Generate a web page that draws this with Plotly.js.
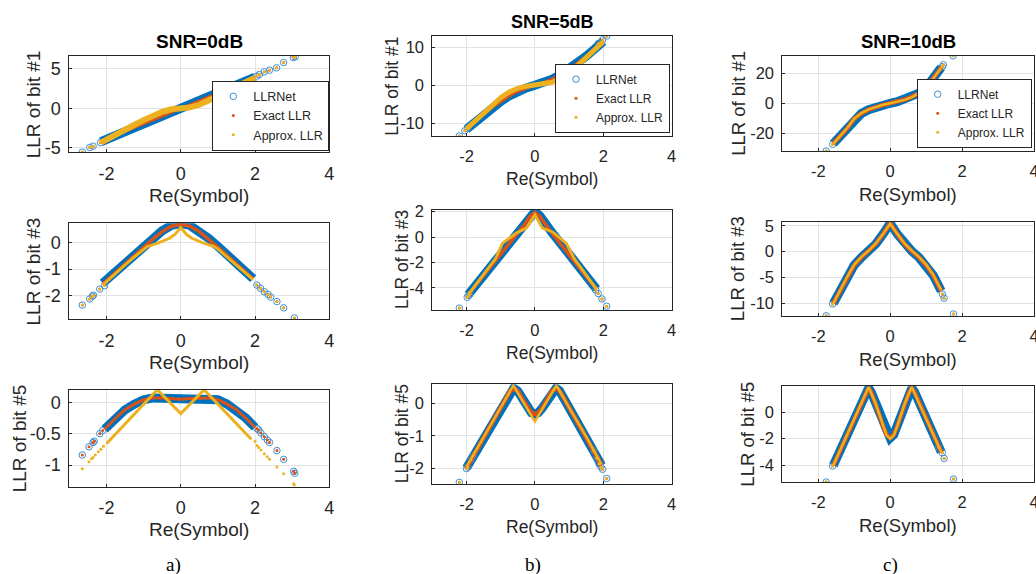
<!DOCTYPE html>
<html><head><meta charset="utf-8">
<script src="https://cdn.plot.ly/plotly-3.0.1.min.js"></script>
<style>html,body{margin:0;padding:0;background:#fff}#chart{width:1036px;height:574px}</style>
</head><body><div id="chart"></div>
<script>
// ---------- data ----------
const xTicks = [-2, 0, 2, 4];
const xTickText = ['-2', '0', '2', '4'];
const seriesNames = ['LLRNet', 'Exact LLR', 'Approx. LLR'];
const snrTitles = ['SNR=0dB', 'SNR=5dB', 'SNR=10dB'];
const bitLabels = ['LLR of bit #1', 'LLR of bit #3', 'LLR of bit #5'];
const captions = ['a)', 'b)', 'c)'];

// a1: SNR=0dB, bit #1
const x_a1 = [-2.15,-2.0,-1.75,-1.5,-1.25,-1.0,-0.75,-0.5,-0.25,0,0.25,0.5,0.75,1.0,1.25,1.5,1.75,2.0];
const net_a1 = [-4.25,-3.95,-3.45,-2.95,-2.45,-1.95,-1.45,-0.95,-0.45,0.0,0.5,1.0,1.5,1.95,2.45,2.95,3.45,3.95];
const exact_a1 = [-4.2,-3.9,-3.4,-2.9,-2.4,-1.9,-1.45,-0.95,-0.45,0.0,0.45,0.95,1.45,1.9,2.4,2.9,3.4,3.9];
const xA_a1 = x_a1;
const approx_a1 = [-4.35,-3.95,-3.35,-2.75,-2.1,-1.5,-0.95,-0.45,-0.12,0.0,0.12,0.45,0.95,1.5,2.1,2.75,3.35,3.9];
const ox_a1 = [-2.65,-2.45,-2.36,-2.16,2.05,2.12,2.25,2.39,2.58,2.77,3.03,3.08];
const oy_a1 = [-5.57,-4.98,-4.81,-4.35,4.1,4.3,4.64,4.85,5.15,5.82,6.46,6.55];

// b1: SNR=5dB, bit #1
const x_b1 = [-2.0,-1.75,-1.5,-1.25,-1.0,-0.75,-0.5,-0.25,0,0.25,0.5,0.75,1.0,1.25,1.5,1.75,2.0];
const net_b1 = [-11.6,-9.6,-7.7,-5.9,-4.3,-2.8,-1.6,-0.7,0.0,0.7,1.6,2.8,4.3,5.9,7.7,9.6,11.6];
const exact_b1 = [-11.6,-9.6,-7.7,-5.9,-4.3,-2.8,-1.6,-0.7,0.0,0.7,1.6,2.8,4.3,5.9,7.7,9.6,11.6];
const xA_b1 = x_b1;
const approx_b1 = [-11.5,-9.4,-7.3,-5.2,-3.3,-1.8,-0.8,-0.25,0.0,0.25,0.8,1.8,3.3,5.2,7.3,9.4,11.5];
const ox_b1 = [-2.21,-2.05,-1.97,1.85,1.98,2.1];
const oy_b1 = [-13.4,-12.0,-11.4,11.0,12.0,13.0];

// c1: SNR=10dB, bit #1
const x_c1 = [-1.58,-1.4,-1.2,-1.0,-0.8,-0.6,-0.4,-0.2,0,0.2,0.4,0.6,0.8,1.0,1.2,1.42];
const net_c1 = [-27.0,-22.5,-17.0,-10.5,-6.8,-4.3,-2.5,-1.1,0.0,1.1,2.5,4.3,6.8,10.5,17.0,24.0];
const exact_c1 = [-27.0,-22.5,-17.0,-10.5,-6.8,-4.3,-2.5,-1.1,0.0,1.1,2.5,4.3,6.8,10.5,17.0,24.0];
const xA_c1 = x_c1;
const approx_c1 = [-27.0,-22.3,-16.8,-10.3,-6.6,-4.1,-2.3,-1.0,0.0,1.0,2.3,4.1,6.6,10.3,16.8,23.8];
const ox_c1 = [-1.78,-1.6,1.45,1.48,1.75];
const oy_c1 = [-32.0,-27.5,24.5,25.8,31.8];

// a2: SNR=0dB, bit #3
const x_a2 = [-2.1,-1.75,-1.5,-1.25,-1.0,-0.75,-0.5,-0.25,0,0.25,0.5,0.75,1.0,1.25,1.5,1.75,1.95];
const net_a2 = [-1.53,-1.1,-0.8,-0.48,-0.15,0.15,0.43,0.63,0.7,0.63,0.43,0.15,-0.15,-0.48,-0.8,-1.1,-1.36];
const exact_a2 = [-1.56,-1.12,-0.82,-0.5,-0.18,0.12,0.4,0.6,0.67,0.6,0.4,0.12,-0.18,-0.5,-0.82,-1.12,-1.38];
const xA_a2 = [-2.1,-1.75,-1.5,-1.25,-1.0,-0.9,-0.6,-0.3,-0.15,0,0.15,0.3,0.6,0.9,1.0,1.25,1.5,1.75,1.95];
const approx_a2 = [-1.6,-1.15,-0.85,-0.55,-0.25,-0.16,-0.02,0.15,0.3,0.55,0.3,0.15,-0.02,-0.16,-0.25,-0.55,-0.85,-1.15,-1.4];
const ox_a2 = [-2.65,-2.45,-2.38,-2.35,-2.18,-2.05,2.05,2.15,2.25,2.35,2.42,2.59,2.77,3.06];
const oy_a2 = [-2.35,-2.12,-2.02,-1.98,-1.75,-1.62,-1.6,-1.72,-1.85,-1.95,-2.05,-2.22,-2.45,-2.83];

// b2: SNR=5dB, bit #3
const x_b2 = [-1.95,-1.5,-1.0,-0.5,-0.3,-0.15,0,0.15,0.3,0.5,1.0,1.5,1.8];
const net_b2 = [-4.55,-3.0,-1.35,0.35,1.05,1.65,2.0,1.65,1.05,0.35,-1.35,-3.0,-4.1];
const exact_b2 = [-4.55,-3.05,-1.4,0.3,1.0,1.6,1.95,1.6,1.0,0.3,-1.4,-3.05,-4.1];
const xA_b2 = [-1.95,-1.5,-1.15,-0.95,-0.55,-0.25,0,0.22,0.52,0.92,1.15,1.5,1.8];
const approx_b2 = [-4.55,-3.0,-1.7,-0.5,0.3,0.7,1.75,0.7,0.4,-0.5,-1.7,-3.0,-4.1];
const ox_b2 = [-2.21,-1.98,-1.93,-1.9,1.78,1.85,1.96,2.1];
const oy_b2 = [-5.6,-4.75,-4.6,-4.5,-4.17,-4.45,-4.88,-5.45];

// c2: SNR=10dB, bit #3
const x_c2 = [-1.58,-1.4,-1.2,-1.0,-0.8,-0.6,-0.4,-0.2,0,0.2,0.4,0.6,0.8,1.0,1.2,1.42];
const net_c2 = [-10.0,-7.6,-5.0,-2.6,-1.1,0.1,1.5,3.4,5.5,3.4,1.5,0.1,-1.1,-2.6,-4.6,-7.6];
const exact_c2 = [-10.0,-7.6,-5.0,-2.6,-1.1,0.1,1.5,3.4,5.5,3.4,1.5,0.1,-1.1,-2.6,-4.6,-7.6];
const xA_c2 = x_c2;
const approx_c2 = [-10.0,-7.5,-4.9,-2.5,-1.0,0.2,1.6,3.4,5.4,3.4,1.6,0.2,-1.0,-2.5,-4.5,-7.5];
const ox_c2 = [-1.78,-1.6,1.45,1.5,1.76];
const oy_c2 = [-12.4,-10.1,-8.2,-9.0,-12.05];

// a3: SNR=0dB, bit #5
const x_a3 = [-2.05,-1.75,-1.5,-1.25,-1.0,-0.75,-0.5,-0.25,0,0.25,0.5,0.75,1.0,1.25,1.5,1.75,2.0];
const net_a3 = [-0.43,-0.25,-0.12,-0.03,0.04,0.07,0.07,0.06,0.05,0.06,0.07,0.07,0.04,-0.03,-0.12,-0.25,-0.4];
const exact_a3 = [-0.43,-0.25,-0.12,-0.03,0.04,0.07,0.07,0.06,0.05,0.06,0.07,0.07,0.04,-0.03,-0.12,-0.25,-0.4];
const xA_a3 = [-2.0,-0.63,0,0.63,1.9];
const approx_a3 = [-0.66,0.2,-0.18,0.2,-0.59];
const ox_a3 = [-2.65,-2.47,-2.36,-2.33,-2.18,-2.1,2.05,2.1,2.16,2.25,2.33,2.39,2.59,2.77,3.04,3.07];
const oy_a3 = [-0.84,-0.71,-0.64,-0.62,-0.5,-0.45,-0.42,-0.44,-0.49,-0.55,-0.6,-0.64,-0.77,-0.91,-1.1,-1.13];
const oxA_a3 = [-2.65,-2.47,-2.4,-2.36,-2.3,-2.22,-2.15,-2.08,2.0,2.05,2.1,2.16,2.25,2.33,2.39,2.59,2.77,3.04,3.06];
const oyA_a3 = [-1.06,-0.95,-0.9,-0.88,-0.84,-0.79,-0.75,-0.7,-0.62,-0.69,-0.72,-0.76,-0.82,-0.87,-0.91,-1.03,-1.14,-1.3,-1.32];

// b3: SNR=5dB, bit #5
const x_b3 = [-2.0,-1.75,-1.5,-1.25,-1.0,-0.85,-0.72,-0.62,-0.5,-0.35,-0.2,-0.1,0,0.1,0.2,0.35,0.5,0.62,0.72,0.85,1.0,1.25,1.5,1.75,1.95];
const net_b3 = [-1.98,-1.52,-1.06,-0.6,-0.14,0.15,0.38,0.46,0.37,0.1,-0.17,-0.29,-0.33,-0.29,-0.17,0.1,0.37,0.46,0.38,0.15,-0.14,-0.6,-1.06,-1.52,-1.9];
const exact_b3 = [-1.98,-1.52,-1.06,-0.6,-0.14,0.15,0.38,0.46,0.37,0.1,-0.17,-0.29,-0.33,-0.29,-0.17,0.1,0.37,0.46,0.38,0.15,-0.14,-0.6,-1.06,-1.52,-1.9];
const xA_b3 = [-2.0,-1.5,-1.0,-0.63,-0.3,0,0.3,0.63,1.0,1.5,1.95];
const approx_b3 = [-1.95,-1.02,-0.13,0.55,-0.03,-0.56,-0.03,0.55,-0.13,-1.02,-1.88];
const ox_b3 = [-2.21,-2.0,-1.96,-1.87,-1.8,1.72,1.8,1.87,1.93,1.98,2.1];
const oy_b3 = [-2.42,-2.0,-1.95,-1.73,-1.6,-1.45,-1.68,-1.85,-1.95,-2.02,-2.3];

// c3: SNR=10dB, bit #5
const x_c3 = [-1.58,-1.4,-1.2,-1.0,-0.8,-0.68,-0.6,-0.52,-0.4,-0.3,-0.2,-0.1,0,0.1,0.2,0.3,0.4,0.52,0.6,0.68,0.8,1.0,1.2,1.42];
const net_c3 = [-4.0,-2.9,-1.7,-0.5,0.75,1.5,1.8,1.45,0.65,-0.2,-1.05,-1.7,-1.95,-1.7,-1.05,-0.2,0.65,1.45,1.8,1.5,0.75,-0.5,-1.7,-3.0];
const exact_c3 = [-4.0,-2.9,-1.7,-0.5,0.75,1.5,1.8,1.45,0.65,-0.2,-1.05,-1.7,-1.95,-1.7,-1.05,-0.2,0.65,1.45,1.8,1.5,0.75,-0.5,-1.7,-3.0];
const xA_c3 = [-1.58,-1.2,-0.6,-0.4,-0.2,-0.1,0,0.1,0.2,0.4,0.6,1.2,1.42];
const approx_c3 = [-4.0,-1.7,1.88,0.6,-1.05,-1.75,-2.0,-1.75,-1.05,0.6,1.88,-1.7,-3.0];
const ox_c3 = [-1.78,-1.6,1.35,1.45,1.5,1.76];
const oy_c3 = [-5.25,-4.05,-2.65,-3.05,-3.48,-5.03];

// y tick values / labels per panel
const yt_a1 = [-5,0,5],        ytt_a1 = ['-5','0','5'];
const yt_b1 = [-10,0,10],      ytt_b1 = ['-10','0','10'];
const yt_c1 = [-20,0,20],      ytt_c1 = ['-20','0','20'];
const yt_a2 = [-2,-1,0],       ytt_a2 = ['-2','-1','0'];
const yt_b2 = [-4,-2,0,2],     ytt_b2 = ['-4','-2','0','2'];
const yt_c2 = [-10,-5,0,5],    ytt_c2 = ['-10','-5','0','5'];
const yt_a3 = [-1,-0.5,0],     ytt_a3 = ['-1','-0.5','0'];
const yt_b3 = [-2,-1,0],       ytt_b3 = ['-2','-1','0'];
const yt_c3 = [-4,-2,0],       ytt_c3 = ['-4','-2','0'];

// ---------- styling / layout ----------
const W = 1036, H = 574;
const BLUE = '#0072BD', RED = '#D95319', YEL = '#EDB120', INK = '#262626';
const FONT = 'Liberation Sans, Arial, Helvetica, sans-serif';

const colPx = [[69.3, 329.3], [432.3, 671.7], [782.3, 1034]];
const colFont = [{tick:18, lab:19, leg:12.5, ttl:19}, {tick:16.5, lab:17.5, leg:12, ttl:18}, {tick:16.5, lab:18.5, leg:12, ttl:18.5}];
const panels = [
  {col:0, top:56,    bot:152,   yr:[-5.55,6.65],  yt:yt_a1, ytt:ytt_a1, ylx:33.3, d:[x_a1,net_a1,exact_a1,xA_a1,approx_a1,ox_a1,oy_a1,ox_a1,oy_a1], rw:3, yw:6, leg:'legend'},
  {col:1, top:36,    bot:136,   yr:[-13.4,13.0],  yt:yt_b1, ytt:ytt_b1, ylx:391.7, d:[x_b1,net_b1,exact_b1,xA_b1,approx_b1,ox_b1,oy_b1,ox_b1,oy_b1], rw:3, yw:5, leg:'legend2'},
  {col:2, top:56,    bot:151,   yr:[-32.0,31.7],  yt:yt_c1, ytt:ytt_c1, ylx:738.3, d:[x_c1,net_c1,exact_c1,xA_c1,approx_c1,ox_c1,oy_c1,ox_c1,oy_c1], rw:4.5, yw:2.5, leg:'legend3'},
  {col:0, top:223.3, bot:319,   yr:[-2.87,0.71],  yt:yt_a2, ytt:ytt_a2, ylx:33.3, d:[x_a2,net_a2,exact_a2,xA_a2,approx_a2,ox_a2,oy_a2,ox_a2,oy_a2], rw:3.5, yw:3},
  {col:1, top:210,   bot:310,   yr:[-5.75,2.13],  yt:yt_b2, ytt:ytt_b2, ylx:402, d:[x_b2,net_b2,exact_b2,xA_b2,approx_b2,ox_b2,oy_b2,ox_b2,oy_b2], rw:3.5, yw:3},
  {col:2, top:221.7, bot:316,   yr:[-12.44,5.8],  yt:yt_c2, ytt:ytt_c2, ylx:738.3, d:[x_c2,net_c2,exact_c2,xA_c2,approx_c2,ox_c2,oy_c2,ox_c2,oy_c2], rw:4.5, yw:2.5},
  {col:0, top:390,   bot:486.7, yr:[-1.346,0.196],yt:yt_a3, ytt:ytt_a3, ylx:19, d:[x_a3,net_a3,exact_a3,xA_a3,approx_a3,ox_a3,oy_a3,oxA_a3,oyA_a3], rw:3, yw:3},
  {col:1, top:384.3, bot:484.3, yr:[-2.48,0.58],  yt:yt_b3, ytt:ytt_b3, ylx:402, d:[x_b3,net_b3,exact_b3,xA_b3,approx_b3,ox_b3,oy_b3,ox_b3,oy_b3], rw:4.5, yw:2.5},
  {col:2, top:386,   bot:482.3, yr:[-5.27,1.95],  yt:yt_c3, ytt:ytt_c3, ylx:747.5, d:[x_c3,net_c3,exact_c3,xA_c3,approx_c3,ox_c3,oy_c3,ox_c3,oy_c3], rw:4.5, yw:2.5}
];

const traces = [];
const layout = {
  width: W, height: H, margin: {l:0, r:0, t:0, b:0},
  paper_bgcolor: '#fff', plot_bgcolor: '#fff',
  font: {family: FONT, color: INK},
  annotations: [], showlegend: true
};

panels.forEach((p, i) => {
  const k = i + 1, xa = 'x' + k, ya = 'y' + k;
  const f = colFont[p.col];
  const [xN, net, exact, xA, approx, oxN, oyN, oxA, oyA] = p.d;
  const showLeg = !!p.leg;
  const legName = p.leg || 'legend';
  traces.push({x:xN, y:net, mode:'lines', xaxis:xa, yaxis:ya, line:{color:BLUE, width:9}, showlegend:false, hoverinfo:'skip'});
  traces.push({x:oxN, y:oyN, mode:'markers', xaxis:xa, yaxis:ya, name:seriesNames[0], legend:legName, showlegend:showLeg,
    marker:{symbol:'circle-open', size:6.5, color:'#3C8FD0', line:{width:1, color:'#3C8FD0'}}});
  traces.push({x:xN, y:exact, mode:'lines', xaxis:xa, yaxis:ya, line:{color:RED, width:p.rw}, showlegend:false, hoverinfo:'skip'});
  traces.push({x:oxN, y:oyN, mode:'markers', xaxis:xa, yaxis:ya, name:seriesNames[1], legend:legName, showlegend:showLeg,
    marker:{symbol:'circle', size:3, color:RED}});
  traces.push({x:xA, y:approx, mode:'lines', xaxis:xa, yaxis:ya, line:{color:YEL, width:p.yw}, showlegend:false, hoverinfo:'skip'});
  traces.push({x:oxA, y:oyA, mode:'markers', xaxis:xa, yaxis:ya, name:seriesNames[2], legend:legName, showlegend:showLeg,
    marker:{symbol:'circle', size:3, color:YEL}});

  const cx = colPx[p.col];
  const common = {showline:true, mirror:true, linecolor:INK, linewidth:1, ticks:'inside', ticklen:3, tickcolor:INK,
    showgrid:true, gridcolor:'#e3e3e3', gridwidth:1, zeroline:false, tickfont:{family:FONT, size:f.tick, color:INK},
    fixedrange:true, ticklabeloverflow:'allow'};
  layout['xaxis' + k] = Object.assign({}, common, {domain:[cx[0]/W, cx[1]/W], range:[-3,4], anchor:ya,
    tickmode:'array', tickvals:xTicks, ticktext:xTickText, ticklabelstandoff:5});
  layout['yaxis' + k] = Object.assign({}, common, {domain:[1 - p.bot/H, 1 - p.top/H], range:p.yr, anchor:xa,
    tickmode:'array', tickvals:p.yt, ticktext:p.ytt, ticklabelstandoff:4});

  // axis titles
  layout.annotations.push({xref:'paper', yref:'paper', x:(cx[0]+cx[1])/2/W, y:1-(p.bot+43)/H, xanchor:'center', yanchor:'middle',
    text:'Re(Symbol)', showarrow:false, font:{family:FONT, size:f.lab, color:INK}});
  layout.annotations.push({xref:'paper', yref:'paper', x:p.ylx/W, y:1-(p.top+p.bot)/2/H, xanchor:'center', yanchor:'middle',
    text:bitLabels[Math.floor(i/3)], textangle:-90, showarrow:false, font:{family:FONT, size:f.lab, color:INK}});
  if (i < 3) {
    layout.annotations.push({xref:'paper', yref:'paper', x:(cx[0]+cx[1])/2/W, y:1-(p.top-14)/H, xanchor:'center', yanchor:'middle',
      text:'<b>' + snrTitles[i] + '</b>', showarrow:false, font:{family:FONT, size:f.ttl, color:'#000'}});
  }
});

const capX = [173, 533, 890];
captions.forEach((c, j) => {
  layout.annotations.push({xref:'paper', yref:'paper', x:capX[j]/W, y:1-565/H, xanchor:'center', yanchor:'middle',
    text:c, showarrow:false, font:{family:'Liberation Serif, Times New Roman, serif', size:19, color:'#000'}});
});

const legBase = {bgcolor:'#fff', bordercolor:INK, borderwidth:1, xanchor:'right', yanchor:'bottom', tracegroupgap:0, itemwidth:30};
layout.legend  = Object.assign({}, legBase, {x:329.3/W,  y:1-150.7/H, font:{family:FONT, size:colFont[0].leg, color:INK}});
layout.legend2 = Object.assign({}, legBase, {x:670/W,    y:1-132.7/H, font:{family:FONT, size:colFont[1].leg, color:INK}});
layout.legend3 = Object.assign({}, legBase, {x:1031.7/W, y:1-147.7/H, font:{family:FONT, size:colFont[2].leg, color:INK}});

Plotly.newPlot('chart', traces, layout, {staticPlot:true, displayModeBar:false});
</script></body></html>
